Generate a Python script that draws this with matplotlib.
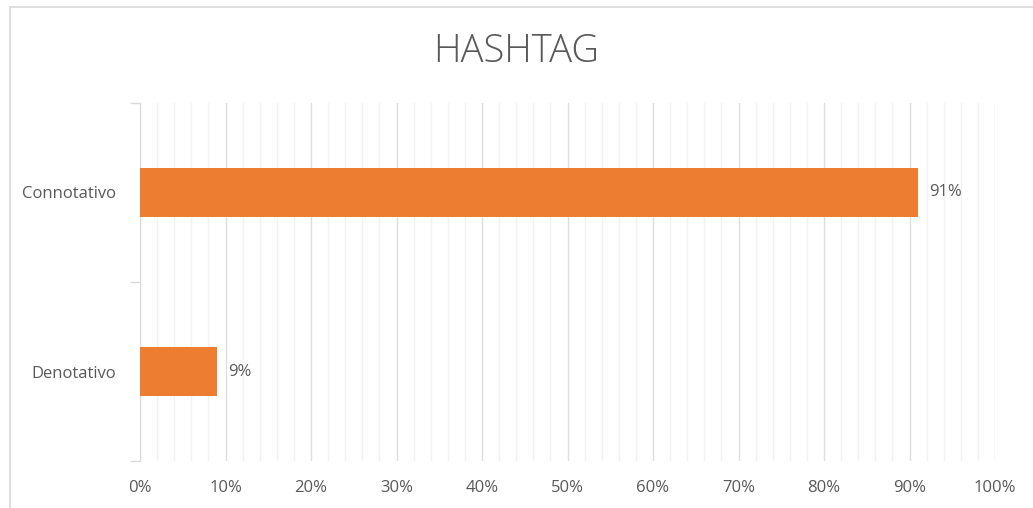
import numpy as np
import matplotlib.pyplot as plt
from matplotlib.patches import Rectangle
from matplotlib.ticker import MultipleLocator, FuncFormatter

categorias = ['Denotativo', 'Connotativo']
valores = [0.09, 0.91]
etiquetas = ['9%', '91%']

plt.rcParams['font.family'] = ['Open Sans', 'DejaVu Sans']

fig = plt.figure(figsize=(10.33, 5.08), dpi=100)
# chart frame
fig.patches.append(Rectangle((10 / 1033, -0.1), 1.2, (508 - 7) / 508 + 0.1,
                             transform=fig.transFigure, fill=False,
                             edgecolor='#d9d9d9', linewidth=1.2))

ax = fig.add_axes([140 / 1033, 47 / 508, 855 / 1033, 358 / 508])
y = np.arange(len(categorias))
ax.barh(y, valores, height=0.27, color='#ED7D31', zorder=3)
for yi, v, t in zip(y, valores, etiquetas):
    ax.text(v + 0.013, yi, t, va='center', ha='left', fontsize=12, color='#595959')

ax.set_xlim(0, 1)
ax.set_ylim(-0.5, 1.5)
ax.xaxis.set_major_locator(MultipleLocator(0.1))
ax.xaxis.set_minor_locator(MultipleLocator(0.02))
ax.xaxis.set_major_formatter(FuncFormatter(lambda v, p: f'{v * 100:.0f}%'))
ax.grid(axis='x', which='major', color='#dedede', linewidth=1, zorder=0)
ax.grid(axis='x', which='minor', color='#f2f2f2', linewidth=1, zorder=0)
ax.tick_params(axis='x', which='both', length=0, labelsize=12, labelcolor='#595959', pad=14)

ax.set_yticks(y)
ax.set_yticklabels(categorias)
ax.set_yticks([-0.5, 0.5, 1.5], minor=True)
ax.tick_params(axis='y', which='major', length=0, labelsize=12, labelcolor='#595959', pad=17)
ax.tick_params(axis='y', which='minor', length=7, color='#d9d9d9', width=1)

for s in ['top', 'right', 'bottom']:
    ax.spines[s].set_visible(False)
ax.spines['left'].set_color('#d9d9d9')

fig.text(0.5, 1 - 52 / 508, 'HASHTAG', ha='center', va='center', fontsize=27.5,
         color='#595959', fontweight='light')

fig.savefig('out.png', dpi=100)
